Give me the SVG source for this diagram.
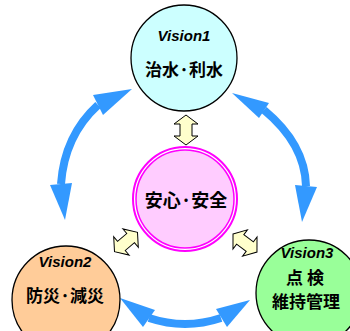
<svg xmlns="http://www.w3.org/2000/svg" width="350" height="331" viewBox="0 0 350 331">
<style>
.node{stroke:#000;stroke-width:1.3}
.v{font-family:"Liberation Sans",Arial,sans-serif;font-weight:bold;font-style:italic;font-size:15px;text-anchor:middle;fill:#000}
.j{font-family:"Noto Sans CJK JP","Noto Sans CJK SC",sans-serif;font-weight:bold;font-size:17px;text-anchor:middle;fill:#000}
.shaft{fill:none;stroke:#3399ff;stroke-width:8}
.head{fill:#3399ff}
.ya{fill:#ffffcc;stroke:#000;stroke-width:1}
</style>
<defs>
<polygon id="dbl" points="-15,0 -6,-12 -6,-6 6,-6 6,-12 15,0 6,12 6,6 -6,6 -6,12"/>
</defs>
<g id="connectors">
<path class="shaft" d="M98,105 Q64.5,135.5 61,184"/>
<polygon class="head" points="132,89 93,95 103,115"/>
<polygon class="head" points="65,220 50,185 72,183"/>
<path class="shaft" d="M264,110 Q305,144 306,186"/>
<polygon class="head" points="232,93 269,103 259,118"/>
<polygon class="head" points="302,222 295,185 317,187"/>
<path class="shaft" d="M149,318 Q185,330 221,318"/>
<polygon class="head" points="120,298 155,310 143,327"/>
<polygon class="head" points="250,300 216,309 227,327"/>
<use href="#dbl" class="ya" transform="translate(186,130) rotate(90)"/>
<use href="#dbl" class="ya" transform="translate(126,242) rotate(-40)"/>
<use href="#dbl" class="ya" transform="translate(245,243) rotate(37)"/>
</g>
<g id="vision1">
<circle class="node" cx="184" cy="58" r="53" fill="#ccffff"/>
<text class="v" x="184" y="41">Vision1</text>
<text class="j" x="184" y="76">治水·利水</text>
</g>
<g id="center">
<circle cx="185" cy="199" r="52" fill="#ffffff" stroke="#ff00ff" stroke-width="2"/>
<circle cx="185" cy="199" r="49" fill="#ffccff" stroke="#ff00ff" stroke-width="1.5"/>
<text class="j" x="186" y="207" style="font-size:18px">安心·安全</text>
</g>
<g id="vision2">
<circle class="node" cx="66" cy="300" r="54" fill="#ffcc99"/>
<text class="v" x="65" y="267">Vision2</text>
<text class="j" x="65" y="302">防災·減災</text>
</g>
<g id="vision3">
<circle class="node" cx="309" cy="293" r="53" fill="#99ff99"/>
<text class="v" x="307" y="258">Vision3</text>
<text class="j" x="305" y="284">点 検</text>
<text class="j" x="306" y="308">維持管理</text>
</g>
</svg>
